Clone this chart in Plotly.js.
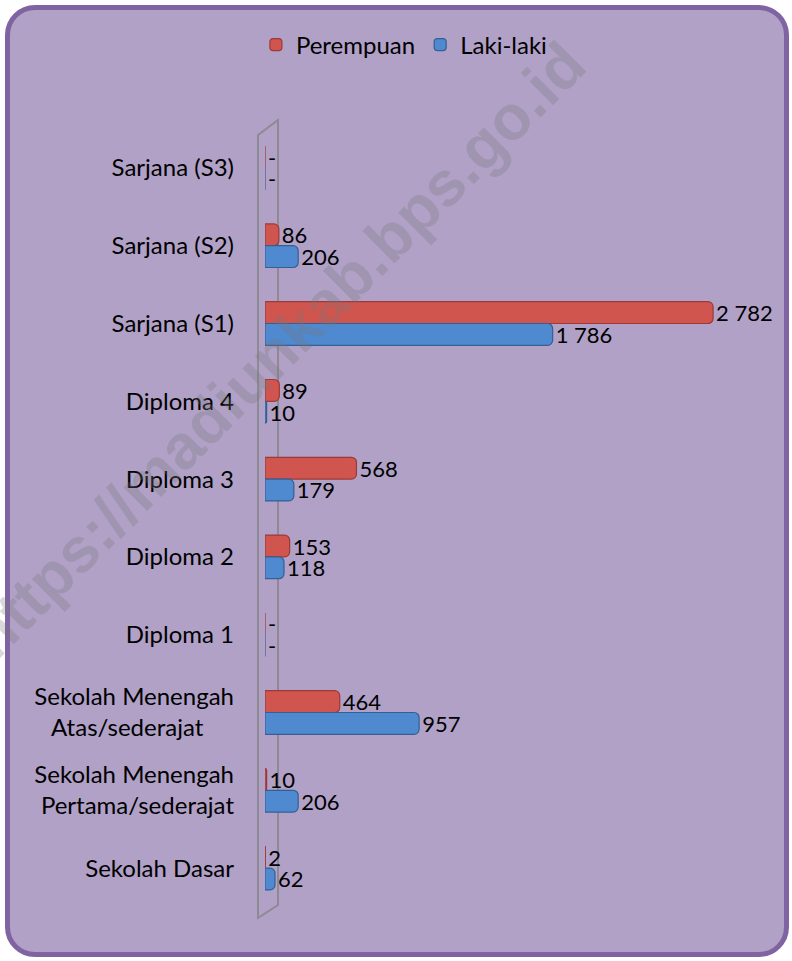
<!DOCTYPE html>
<html>
<head>
<meta charset="utf-8">
<script src="https://cdn.plot.ly/plotly-3.0.1.min.js"></script>
<style>
  html, body { margin: 0; padding: 0; background: #ffffff; }
  #wrap { position: relative; width: 792px; height: 961px; overflow: hidden; }
  #panel {
    position: absolute; left: 5px; top: 5px; width: 774px; height: 942px;
    background: #B1A1C7; border: 5px solid #8064A2; border-radius: 30px;
  }
  #chart { position: absolute; left: 0; top: 0; width: 792px; height: 961px; }
</style>
</head>
<body>
<div id="wrap">
  <div id="panel"></div>
  <div id="chart"></div>
</div>
<script>
// Categories, top to bottom as in the reference
const categories = [
  'Sarjana (S3)',
  'Sarjana (S2)',
  'Sarjana (S1)',
  'Diploma 4',
  'Diploma 3',
  'Diploma 2',
  'Diploma 1',
  'Sekolah Menengah<br>Atas/sederajat\u00a0\u00a0\u00a0\u00a0\u00a0',
  'Sekolah Menengah<br>Pertama/sederajat',
  'Sekolah Dasar'
];
const perempuan = [0, 86, 2782, 89, 568, 153, 0, 464, 10, 2];
const lakiLaki  = [0, 206, 1786, 10, 179, 118, 0, 957, 206, 62];
const seriesNames = ['Perempuan', 'Laki-laki'];
const watermarkText = 'https://madiunkab.bps.go.id';

function fmt(v) {
  if (v === 0) return '-';
  return String(v).replace(/\B(?=(\d{3})+(?!\d))/g, ' ');
}

const W = 792, H = 961;
const M = { l: 265, r: 10, t: 129, b: 54 };
const PW = W - M.l - M.r, PH = H - M.t - M.b;
const px = x => (x - M.l) / PW;
const py = y => (H - M.b - y) / PH;

const labelFont = { family: 'Lato, "Open Sans", sans-serif', size: 24, color: '#000000' };
const valueFont = { family: 'Lato, "Open Sans", sans-serif', size: 22, color: '#000000' };

const traces = [
  {
    type: 'bar', orientation: 'h', name: seriesNames[0],
    y: categories, x: perempuan,
    text: perempuan.map(fmt), textposition: 'outside', cliponaxis: false,
    constraintext: 'none',
    textfont: valueFont, outsidetextfont: valueFont,
    marker: { color: '#D0554F', line: { color: '#9B3A36', width: 1.2 } },
    hoverinfo: 'skip'
  },
  {
    type: 'bar', orientation: 'h', name: seriesNames[1],
    y: categories, x: lakiLaki,
    text: lakiLaki.map(fmt), textposition: 'outside', cliponaxis: false,
    constraintext: 'none',
    textfont: valueFont, outsidetextfont: valueFont,
    marker: { color: '#4F8AD0', line: { color: '#355F93', width: 1.2 } },
    hoverinfo: 'skip'
  }
];

const wallColor = '#8E8A93';
const layout = {
  width: W, height: H,
  margin: M,
  paper_bgcolor: 'rgba(0,0,0,0)',
  plot_bgcolor: 'rgba(0,0,0,0)',
  barmode: 'group',
  bargap: 0.44,
  bargroupgap: 0,
  barcornerradius: 5,
  font: labelFont,
  showlegend: true,
  legend: {
    orientation: 'h',
    xref: 'container', yref: 'container',
    x: 0.51, xanchor: 'center',
    y: 1 - 45 / H, yanchor: 'middle',
    font: labelFont,
    bgcolor: 'rgba(0,0,0,0)',
    itemwidth: 30,
    traceorder: 'normal'
  },
  xaxis: {
    range: [0, 3210],
    showgrid: false, zeroline: false, showline: false,
    showticklabels: false, ticks: ''
  },
  yaxis: {
    type: 'category',
    range: [9.5, -0.5],
    showgrid: false, zeroline: false, showline: false,
    ticks: '', ticklabelstandoff: 30,
    tickfont: labelFont
  },
  shapes: [
    { type: 'path', xref: 'paper', yref: 'paper',
      path: `M ${px(258)},${py(918)} L ${px(258)},${py(135)} L ${px(278)},${py(120)} L ${px(278)},${py(905)} Z`,
      line: { color: wallColor, width: 2 }, fillcolor: 'rgba(0,0,0,0)', layer: 'below' }
  ],
  annotations: [
    { text: '<b>' + watermarkText + '</b>',
      xref: 'paper', yref: 'paper',
      x: px(277), y: py(350), xanchor: 'center', yanchor: 'middle',
      showarrow: false, textangle: -45,
      font: { family: 'Liberation Sans, Arial, sans-serif', size: 63, color: 'rgba(120,120,120,0.28)' } }
  ]
};

Plotly.newPlot('chart', traces, layout, { displayModeBar: false, staticPlot: true });
</script>
</body>
</html>
